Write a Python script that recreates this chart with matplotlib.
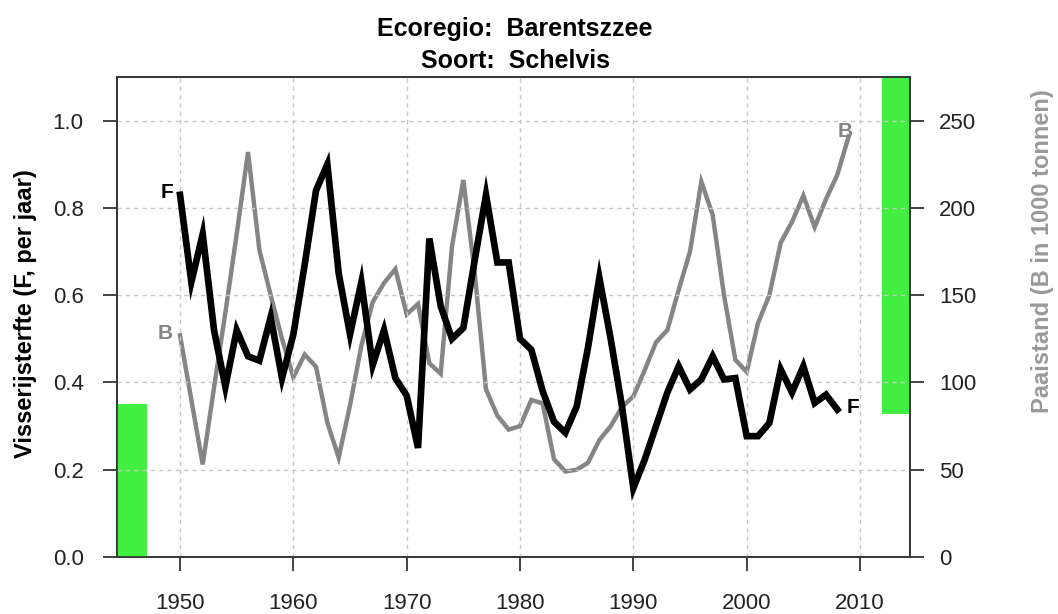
import matplotlib.pyplot as plt

# --- data ---------------------------------------------------------------
years_f = list(range(1950, 2009))
f_values = [0.83, 0.63, 0.74, 0.52, 0.39, 0.52, 0.46, 0.45, 0.55, 0.41,
            0.51, 0.67, 0.84, 0.90, 0.65, 0.51, 0.63, 0.44, 0.52, 0.41,
            0.37, 0.25, 0.73, 0.575, 0.50, 0.525, 0.68, 0.83, 0.675, 0.675,
            0.50, 0.475, 0.38, 0.31, 0.285, 0.345, 0.48, 0.64, 0.50, 0.345,
            0.158, 0.223, 0.30, 0.377, 0.437, 0.384, 0.407, 0.46, 0.407, 0.41,
            0.277, 0.277, 0.307, 0.43, 0.377, 0.437, 0.353, 0.372, 0.338]

years_b = list(range(1950, 2010))
b_values = [127, 90, 53, 97, 140, 185, 232, 176, 150, 125,
            103, 116, 109, 77, 57, 87, 121, 146, 157, 165,
            139, 145, 111, 105, 178, 216, 163, 96, 81, 73,
            75, 90, 88, 56, 49, 50, 54, 67, 75, 86,
            92, 107, 123, 130, 153, 175, 215, 196, 150, 113,
            106, 134, 150, 180, 192, 207, 189, 205, 219, 241]

f_ref = 0.35   # referentiepunt F
b_ref = 82     # referentiepunt B

x_ticks = [1950, 1960, 1970, 1980, 1990, 2000, 2010]
f_ticks = [0.0, 0.2, 0.4, 0.6, 0.8, 1.0]
b_ticks = [0, 50, 100, 150, 200, 250]

title_1 = "Ecoregio:  Barentszzee"
title_2 = "Soort:  Schelvis"
f_label = "Visserijsterfte (F, per jaar)"
b_label = "Paaistand (B in 1000 tonnen)"

# --- styles ---------------------------------------------------------------
plt.rcParams['font.family'] = ['Liberation Sans', 'DejaVu Sans']
green = '#40ef40'
grey = '#858585'
x_min, x_max = 1944.44, 2014.41

fig = plt.figure(figsize=(10.58, 6.14), dpi=100)
ax = fig.add_axes([0.1106, 0.0928, 0.7495, 0.7818])
ax2 = ax.twinx()

# green reference bars
ax.bar(x_min, f_ref, width=2.65, align='edge', color=green, zorder=1)
ax2.bar(2011.97, 275 - b_ref, bottom=b_ref, width=x_max - 2011.97,
        align='edge', color=green, zorder=1)

# lines
ax2.plot(years_b, b_values, color=grey, lw=3.2, solid_joinstyle='miter', zorder=3)
ax.set_zorder(ax2.get_zorder() + 1)
ax.patch.set_visible(False)
ax.plot(years_f, f_values, color='black', lw=4.8, solid_joinstyle='miter', zorder=4)

# letters at line ends
ax.text(years_f[0] - 0.6, f_values[0] + 0.005, "F", fontsize=15, fontweight='bold',
        ha='right', va='center')
ax.text(years_f[-1] + 0.8, f_values[-1] + 0.005, "F", fontsize=15, fontweight='bold',
        ha='left', va='center')
ax2.text(years_b[0] - 0.6, b_values[0] + 1, "B", fontsize=15, fontweight='bold',
         color=grey, ha='right', va='center')
ax2.text(years_b[-1] - 1.0, b_values[-1] + 3, "B", fontsize=15, fontweight='bold',
         color=grey, ha='left', va='center')

# axes
ax.set_xlim(x_min, x_max)
ax.set_ylim(0, 1.1)
ax2.set_ylim(0, 275)
ax.set_xticks(x_ticks)
ax.set_yticks(f_ticks)
ax.set_yticklabels([f"{v:.1f}" for v in f_ticks])
ax2.set_yticks(b_ticks)

for a in (ax, ax2):
    a.tick_params(length=10, width=1.2, labelsize=16, colors='#222222')
    for s in a.spines.values():
        s.set_color('#333333')
        s.set_linewidth(1.2)
ax.tick_params(axis='x', pad=16)
ax.tick_params(axis='y', pad=14)
ax2.tick_params(axis='y', pad=11)

ax.grid(True, color='#c8c8c8', linestyle=(0, (3, 3)), linewidth=1.0)

ax.set_ylabel(f_label, fontsize=17, fontweight='bold')
ax.yaxis.set_label_coords(-0.101, 0.508)
ax2.set_ylabel(b_label, fontsize=17, fontweight='bold', color='#999999', rotation=90)
ax2.yaxis.set_label_coords(1.152, 0.6375)

fig.text(0.487, 0.952, title_1, ha='center', va='center', fontsize=18, fontweight='bold')
fig.text(0.487, 0.901, title_2, ha='center', va='center', fontsize=18, fontweight='bold')

plt.savefig("out.png", dpi=100)
plt.close()
